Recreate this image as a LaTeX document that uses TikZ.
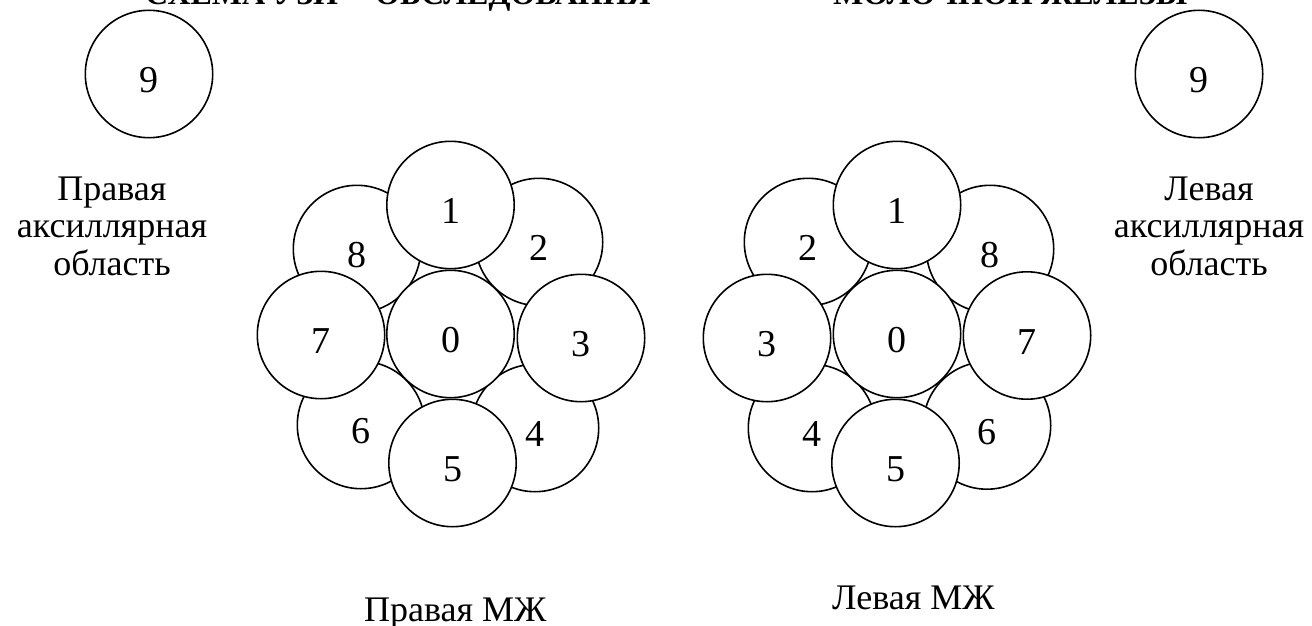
\documentclass[tikz,border=0pt]{standalone}
\usepackage{fontspec}
\setmainfont{Liberation Serif}
\newcommand\lblfont{\fontsize{36}{37.5}\selectfont}
\newcommand\digfont{\fontsize{38}{40}\selectfont}
\newcommand\hdrfont{\fontsize{32}{34}\selectfont\bfseries}
\begin{document}
\begin{tikzpicture}[x=1pt,y=-1pt,
  zone/.style={circle, draw=black, line width=1.6pt, fill=white,
    minimum size=127.4pt, inner sep=0pt, font=\digfont,
    text height=37pt, text depth=0pt},
  caption/.style={align=center, font=\lblfont, anchor=base},
  heading/.style={font=\hdrfont, anchor=base west, inner sep=0pt}]
\useasboundingbox (0,0) rectangle (1312,626);
\fill[white] (0,0) rectangle (1312,626);
\clip (0,0) rectangle (1312,626);

% heading line (only its lower edge falls on the page)
\node[heading] (h1) at (145,5) {СХЕМА УЗИ};
\node[heading] (h2) at (375,5) {ОБСЛЕДОВАНИЯ};
\node[heading] (h3) at (833,5) {МОЛОЧНОЙ ЖЕЛЕЗЫ};

% axillary zones
\node[zone] (AL) at (149,74) {9};
\node[zone] (AR) at (1199,74) {9};
% multi-line captions: the base anchor sits on the last line
\node[caption] (capL) at (112,275) {Правая\\аксиллярная\\область};
\node[caption] (capR) at (1209,275) {Левая\\аксиллярная\\область};

% right breast: back ring
\node[zone] (L2) at (539,242) {2};
\node[zone] (L4) at (535,428) {4};
\node[zone] (L6) at (361,425) {6};
\node[zone] (L8) at (357,249) {8};
% right breast: front ring and centre
\node[zone] (L1) at (450.5,205) {1};
\node[zone] (L3) at (581,338) {3};
\node[zone] (L5) at (452.5,463) {5};
\node[zone] (L7) at (321,335) {7};
\node[zone] (L0) at (450.5,334) {0};

% left breast: back ring
\node[zone] (R2) at (808,242) {2};
\node[zone] (R4) at (812,428) {4};
\node[zone] (R6) at (987,425.5) {6};
\node[zone] (R8) at (990,249) {8};
% left breast: front ring and centre
\node[zone] (R1) at (897,205) {1};
\node[zone] (R3) at (767,338) {3};
\node[zone] (R5) at (895.5,463) {5};
\node[zone] (R7) at (1027,335.5) {7};
\node[zone] (R0) at (897,334) {0};

% captions under the breasts
\node[font=\lblfont, anchor=base west, inner sep=0pt] (nameL) at (364,621) {Правая МЖ};
\node[font=\lblfont, anchor=base west, inner sep=0pt] (nameR) at (832,609) {Левая МЖ};
\end{tikzpicture}
\end{document}
